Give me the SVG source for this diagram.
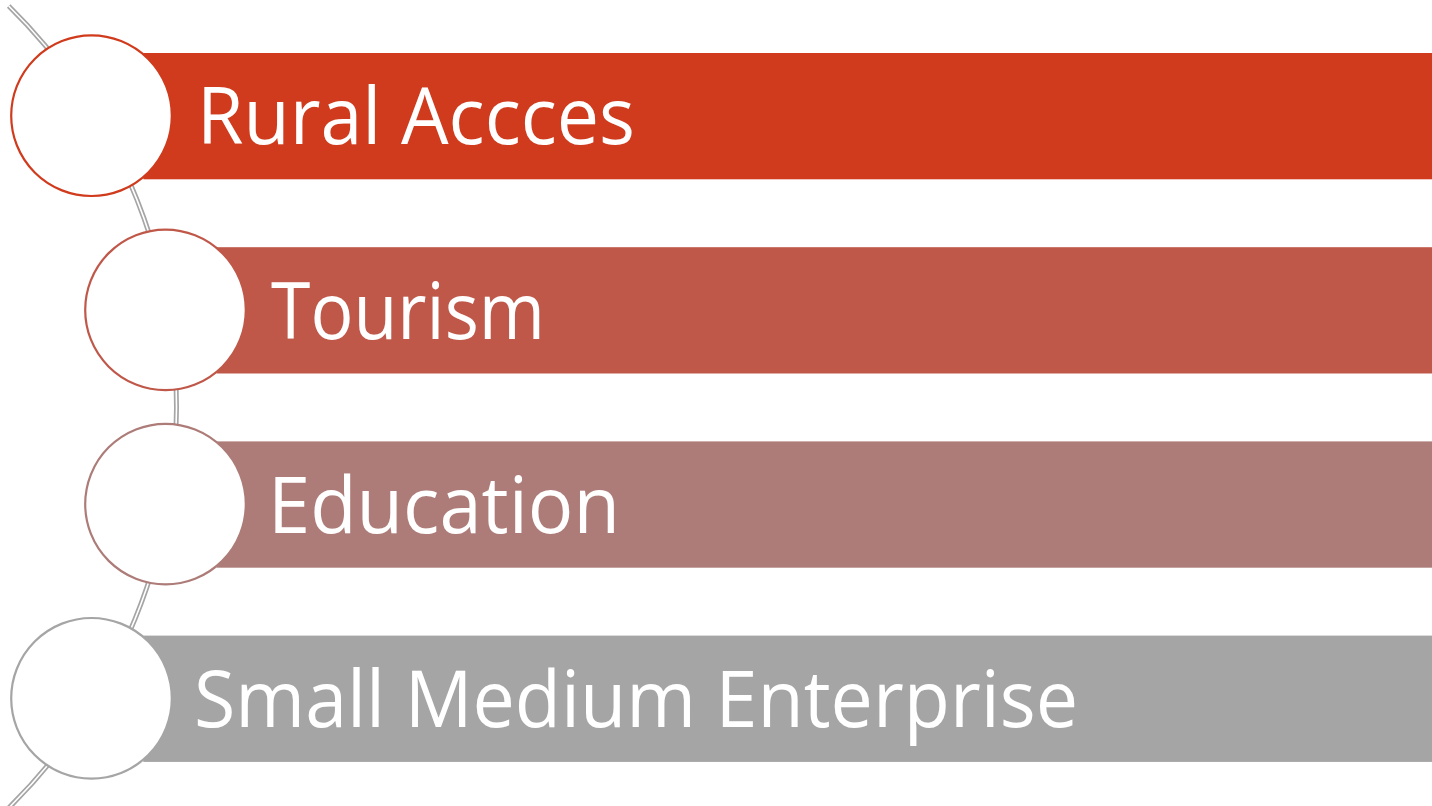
<svg xmlns="http://www.w3.org/2000/svg" width="1432" height="806" viewBox="0 0 1432 806">
  <style>
    .arc-outer { fill: none; stroke: #A5A5A5; stroke-width: 5; }
    .arc-inner { fill: none; stroke: #FFFFFF; stroke-width: 1.6; }
    .circle { fill: #FFFFFF; stroke-width: 2.2; }
    .label { font-family: "Open Sans", "Noto Sans", "Liberation Sans", sans-serif; font-size: 78px; font-weight: 400; fill: #FFFFFF; }
  </style>
  <rect width="1432" height="806" fill="#FFFFFF"/>
  <g id="connectors">
    <path class="arc-outer" d="M 8.7 6 A 563 563 0 0 1 6.6 810"/>
    <path class="arc-inner" d="M 8.7 6 A 563 563 0 0 1 6.6 810"/>
  </g>
  <g id="node-rural">
    <rect x="143.3" y="53" width="1290" height="126.3" fill="#D03B1D"/>
    <circle class="circle" cx="91.5" cy="115.7" r="80.3" stroke="#D03B1D"/>
    <text class="label" x="197" y="144.3" textLength="438" lengthAdjust="spacingAndGlyphs">Rural Accces</text>
  </g>
  <g id="node-tourism">
    <rect x="216.7" y="247.2" width="1216" height="126.3" fill="#C0584A"/>
    <circle class="circle" cx="165.5" cy="309.9" r="80.3" stroke="#C0584A"/>
    <text class="label" x="271" y="338.5" textLength="274" lengthAdjust="spacingAndGlyphs">Tourism</text>
  </g>
  <g id="node-education">
    <rect x="216.7" y="441.4" width="1216" height="126.3" fill="#AD7C78"/>
    <circle class="circle" cx="165.5" cy="504.1" r="80.3" stroke="#AD7C78"/>
    <text class="label" x="268" y="532.7" textLength="352" lengthAdjust="spacingAndGlyphs">Education</text>
  </g>
  <g id="node-sme">
    <rect x="143.3" y="635.6" width="1290" height="126.3" fill="#A5A5A5"/>
    <circle class="circle" cx="91.5" cy="698.3" r="80.3" stroke="#A5A5A5"/>
    <text class="label" x="194" y="727" textLength="884" lengthAdjust="spacingAndGlyphs">Small Medium Enterprise</text>
  </g>
</svg>
